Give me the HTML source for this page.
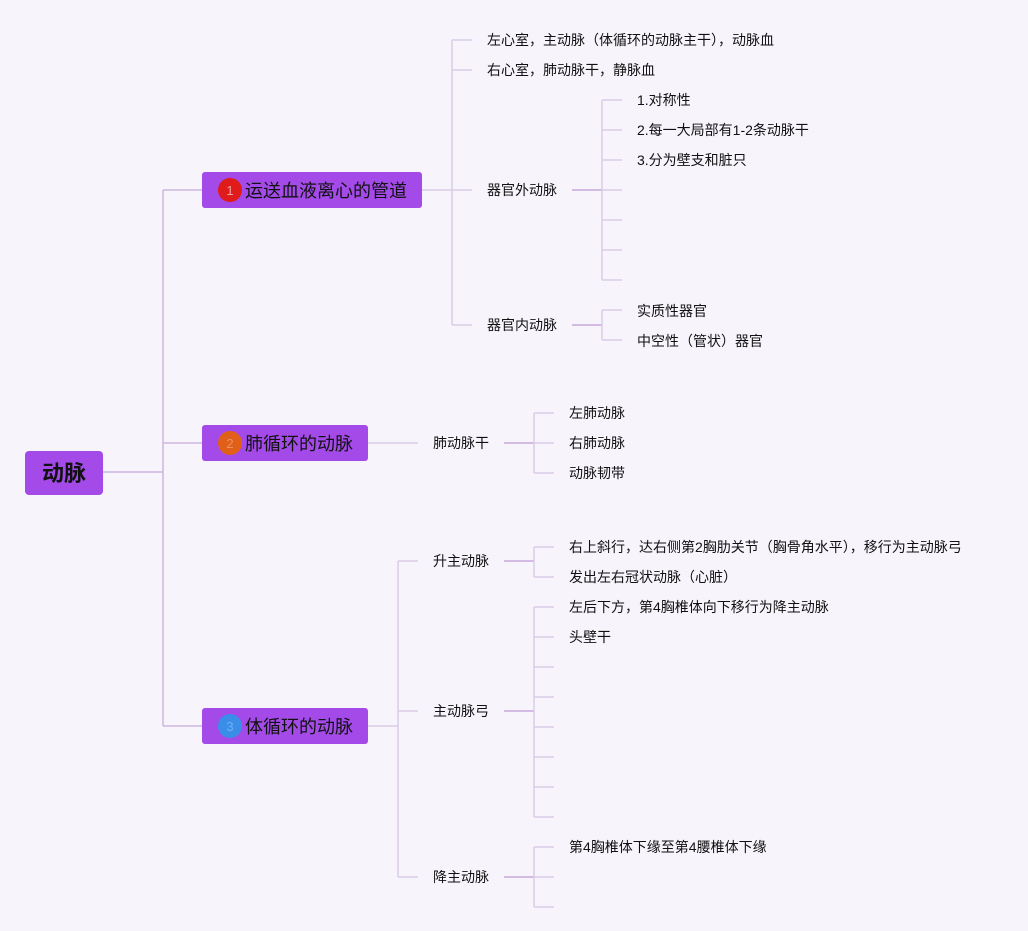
<!DOCTYPE html>
<html><head><meta charset="utf-8"><style>
html,body{margin:0;padding:0;background:#f8f4fb;}
svg{display:block;}
text{font-family:"Liberation Sans","Noto Sans CJK SC",sans-serif;fill:#111;}
.t{font-size:14px;}
.b{font-size:18px;}
</style></head><body>
<svg width="1028" height="931" viewBox="0 0 1028 931" xmlns="http://www.w3.org/2000/svg">
<rect width="1028" height="931" fill="#f8f4fb"/>
<g stroke="#d9cbe6" stroke-width="1.5" fill="none">
<!-- root -->
<path d="M103 472H163M163 190V726M163 190H202M163 443H202M163 726H202" stroke="#cdb6e0"/>
<!-- branch 1 -->
<path d="M422 190H452M452 40V325M452 40H472M452 70H472M452 190H472M452 325H472"/>
<path d="M572 190H602" stroke="#c8a8dc"/>
<path d="M602 100V280M602 100H622M602 130H622M602 160H622M602 190H622M602 220H622M602 250H622M602 280H622"/>
<path d="M572 325H602" stroke="#c8a8dc"/>
<path d="M602 310V340M602 310H622M602 340H622"/>
<!-- branch 2 -->
<path d="M368 443H418"/>
<path d="M504 443H534" stroke="#c8a8dc"/>
<path d="M534 413V473M534 413H554M534 443H554M534 473H554"/>
<!-- branch 3 -->
<path d="M368 726H398M398 561V877M398 561H418M398 711H418M398 877H418"/>
<path d="M504 561H534M504 711H534M504 877H534" stroke="#c8a8dc"/>
<path d="M534 547V577M534 547H554M534 577H554"/>
<path d="M534 607V817M534 607H554M534 637H554M534 667H554M534 697H554M534 727H554M534 757H554M534 787H554M534 817H554"/>
<path d="M534 847V907M534 847H554M534 877H554M534 907H554"/>
</g>
<!-- root box -->
<rect x="25" y="451" width="78" height="44" rx="4" fill="#a34ae8"/>
<text x="64" y="481" text-anchor="middle" style="font-size:22px;font-weight:bold">动脉</text>
<!-- level1 boxes -->
<rect x="202" y="172" width="220" height="36" rx="3" fill="#a34ae8"/>
<circle cx="230" cy="190" r="12" fill="#e01b1b"/>
<text x="230" y="195" text-anchor="middle" style="font-size:13px;fill:#f0a0a0">1</text>
<text x="245" y="197" class="b">运送血液离心的管道</text>
<rect x="202" y="425" width="166" height="36" rx="3" fill="#a34ae8"/>
<circle cx="230" cy="443" r="12" fill="#e0601a"/>
<text x="230" y="448" text-anchor="middle" style="font-size:13px;fill:#f09060">2</text>
<text x="245" y="450" class="b">肺循环的动脉</text>
<rect x="202" y="708" width="166" height="36" rx="3" fill="#a34ae8"/>
<circle cx="230" cy="726" r="12" fill="#3a8ee8"/>
<text x="230" y="731" text-anchor="middle" style="font-size:13px;fill:#70b0f0">3</text>
<text x="245" y="733" class="b">体循环的动脉</text>
<!-- texts -->
<g class="t">
<text x="487" y="45" class="t">左心室，主动脉（体循环的动脉主干），动脉血</text>
<text x="487" y="75" class="t">右心室，肺动脉干，静脉血</text>
<text x="487" y="195" class="t">器官外动脉</text>
<text x="487" y="330" class="t">器官内动脉</text>
<text x="637" y="105" class="t">1.对称性</text>
<text x="637" y="135" class="t">2.每一大局部有1-2条动脉干</text>
<text x="637" y="165" class="t">3.分为壁支和脏只</text>
<text x="637" y="316" class="t">实质性器官</text>
<text x="637" y="346" class="t">中空性（管状）器官</text>
<text x="433" y="448" class="t">肺动脉干</text>
<text x="569" y="418" class="t">左肺动脉</text>
<text x="569" y="448" class="t">右肺动脉</text>
<text x="569" y="478" class="t">动脉韧带</text>
<text x="433" y="566" class="t">升主动脉</text>
<text x="433" y="716" class="t">主动脉弓</text>
<text x="433" y="882" class="t">降主动脉</text>
<text x="569" y="552" class="t">右上斜行，达右侧第2胸肋关节（胸骨角水平），移行为主动脉弓</text>
<text x="569" y="582" class="t">发出左右冠状动脉（心脏）</text>
<text x="569" y="612" class="t">左后下方，第4胸椎体向下移行为降主动脉</text>
<text x="569" y="642" class="t">头壁干</text>
<text x="569" y="852" class="t">第4胸椎体下缘至第4腰椎体下缘</text>
</g>
</svg>
</body></html>
